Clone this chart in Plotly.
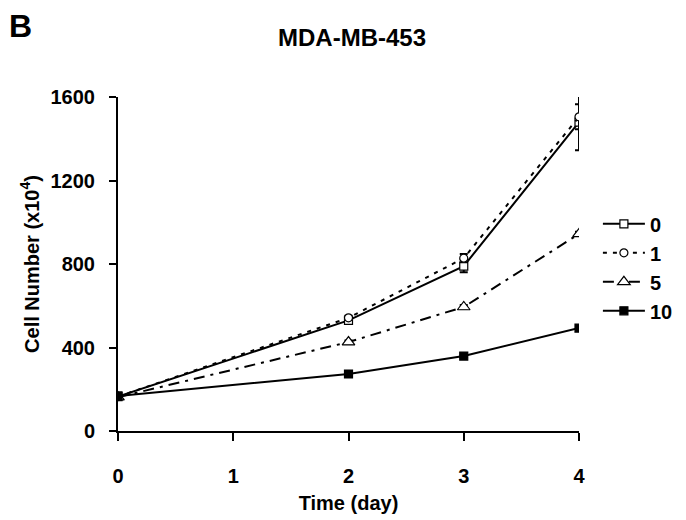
import plotly.graph_objects as go

days = [0, 2, 3, 4]
conc_labels = ["0", "1", "5", "10"]
vals_0 = [165, 530, 790, 1480]
err_0 = [0, 12, 30, 135]
vals_1 = [165, 542, 828, 1505]
err_1 = [0, 10, 20, 60]
vals_5 = [162, 426, 594, 944]
err_5 = [0, 8, 10, 10]
vals_10 = [168, 273, 359, 493]
err_10 = [0, 5, 6, 8]

series = [
    (vals_0, err_0, "solid", "square", 8, "white"),
    (vals_1, err_1, "4px,6px", "circle", 8, "white"),
    (vals_5, err_5, "11px,6px,3px,6px", "triangle-up", 11, "white"),
    (vals_10, err_10, "solid", "square", 8, "black"),
]

fig = go.Figure()
for i, (v, e, dash, sym, sz, fill) in enumerate(series):
    fig.add_trace(go.Scatter(
        x=days, y=v, name="<b>" + conc_labels[i] + "</b>", mode="lines+markers",
        line=dict(color="black", width=2, dash=dash),
        marker=dict(symbol=sym, size=sz, color=fill,
                    line=dict(color="black", width=1.2)),
        error_y=dict(type="data", array=e, visible=True, color="black", thickness=2, width=4),
        legendgroup=str(i),
    ))

font_family = "Liberation Sans, Arial, sans-serif"
fig.update_layout(
    width=678, height=512,
    margin=dict(l=110, r=107, t=89, b=89, autoexpand=False),
    paper_bgcolor="white", plot_bgcolor="white",
    font=dict(family=font_family, color="black", size=20),
    title=dict(text="<b>MDA-MB-453</b>", x=0.5076, xref="paper", xanchor="center",
               y=0.9414, yanchor="middle", font=dict(size=24, family=font_family)),
    showlegend=True,
    legend=dict(x=1.041, xanchor="left", y=0.49, yanchor="middle",
                font=dict(size=20, family=font_family), tracegroupgap=3,
                bgcolor="rgba(0,0,0,0)", itemwidth=42, traceorder="normal"),
    xaxis=dict(range=[0, 4], tickvals=[0, 1, 2, 3, 4],
               ticktext=["<b>0</b>", "<b>1</b>", "<b>2</b>", "<b>3</b>", "<b>4</b>"],
               showline=True, linecolor="black", linewidth=2, ticks="outside", ticklen=8,
               tickwidth=2, tickcolor="black", showgrid=False, zeroline=False,
               tickfont=dict(size=20), ticklabelstandoff=18, automargin=False,
               title=dict(text="<b>Time (day)</b>", font=dict(size=20), standoff=10)),
    yaxis=dict(range=[0, 1600], tickvals=[0, 400, 800, 1200, 1600],
               ticktext=["<b>0</b>", "<b>400</b>", "<b>800</b>", "<b>1200</b>", "<b>1600</b>"],
               showline=True, linecolor="black", linewidth=2, ticks="outside", ticklen=7,
               tickwidth=2, tickcolor="black", showgrid=False, zeroline=False,
               tickfont=dict(size=20), ticklabelstandoff=10, automargin=False,
               title=dict(text="<b>Cell Number (x10<sup>4</sup>)</b>", font=dict(size=20), standoff=6)),
)
fig.add_annotation(text="<b>B</b>", xref="paper", yref="paper", x=-0.2115, y=1.214,
                   xanchor="center", yanchor="middle", showarrow=False,
                   font=dict(size=32, family=font_family))
fig.write_html("out.html")
